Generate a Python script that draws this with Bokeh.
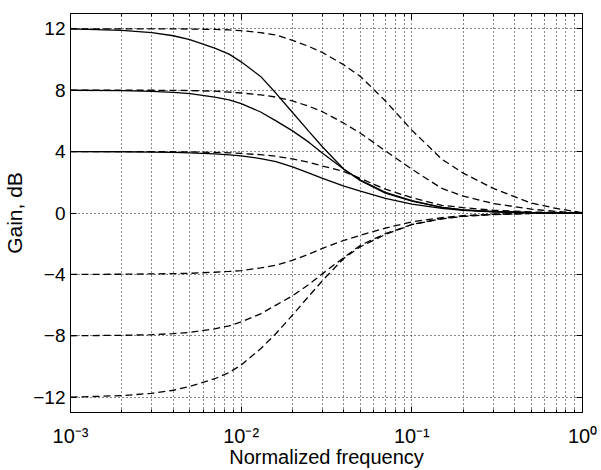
import math
from bokeh.plotting import figure
from bokeh.models import Range1d, FixedTicker, LogAxis, LinearAxis, CustomJSTickFormatter
from bokeh.embed import file_html
from bokeh.resources import INLINE

# ---- data ----
freq = [0.001, 0.002, 0.003, 0.004, 0.005, 0.007, 0.0085, 0.01, 0.013, 0.016, 0.02, 0.025,
        0.03, 0.04, 0.05, 0.07, 0.1, 0.15, 0.2, 0.3, 0.5, 0.7, 1.0]

solid_12 = [12.0, 11.9, 11.75, 11.55, 11.3, 10.75, 10.35, 9.85, 8.9, 7.8, 6.55, 5.3,
            4.3, 2.85, 2.1, 1.3, 0.78, 0.36, 0.21, 0.09, 0.03, 0.01, 0.0]
solid_8 = [8.0, 7.97, 7.92, 7.86, 7.78, 7.55, 7.37, 7.13, 6.58, 6.0, 5.35, 4.6,
           3.9, 2.85, 2.15, 1.35, 0.8, 0.37, 0.21, 0.09, 0.03, 0.01, 0.0]
solid_4 = [4.0, 3.99, 3.97, 3.95, 3.92, 3.85, 3.79, 3.72, 3.55, 3.35, 3.0, 2.6,
           2.25, 1.75, 1.42, 0.95, 0.58, 0.3, 0.17, 0.08, 0.03, 0.01, 0.0]

dashed_12 = [12.0, 12.0, 12.0, 12.0, 11.99, 11.96, 11.93, 11.88, 11.75, 11.6, 11.25, 10.85,
             10.45, 9.65, 8.9, 7.3, 5.4, 3.5, 2.6, 1.6, 0.65, 0.3, 0.02]
dashed_8 = [8.0, 8.0, 8.0, 7.99, 7.98, 7.94, 7.88, 7.82, 7.7, 7.55, 7.3, 6.95,
            6.6, 5.85, 5.2, 4.05, 2.85, 1.6, 1.1, 0.62, 0.25, 0.1, 0.0]
dashed_4 = [4.0, 4.0, 4.0, 3.99, 3.98, 3.95, 3.92, 3.88, 3.8, 3.7, 3.52, 3.3,
            3.06, 2.7, 2.25, 1.55, 1.0, 0.5, 0.35, 0.18, 0.07, 0.03, 0.0]

cut_4 = [-4.0, -3.99, -3.97, -3.95, -3.93, -3.86, -3.81, -3.75, -3.58, -3.4, -3.08, -2.68,
         -2.3, -1.78, -1.45, -0.98, -0.58, -0.3, -0.17, -0.08, -0.03, -0.01, 0.0]
cut_8 = [-8.0, -7.97, -7.93, -7.86, -7.78, -7.55, -7.35, -7.1, -6.57, -6.0, -5.4, -4.65,
         -3.95, -2.9, -2.1, -1.35, -0.75, -0.36, -0.2, -0.09, -0.03, -0.01, 0.0]
cut_12 = [-12.0, -11.9, -11.75, -11.55, -11.3, -10.8, -10.4, -9.9, -8.85, -7.85, -6.65, -5.4,
          -4.4, -2.95, -2.2, -1.4, -0.75, -0.38, -0.22, -0.1, -0.03, -0.01, 0.0]

x_ticks = [0.001, 0.01, 0.1, 1.0]
x_tick_labels = ["10\u207b\u00b3", "10\u207b\u00b2", "10\u207b\u00b9", "10\u2070"]
x_minor_ticks = [k * 10.0 ** e for e in (-3, -2, -1) for k in range(2, 10)]
y_ticks = [-12, -8, -4, 0, 4, 8, 12]
y_tick_labels = ["\u221212", "\u22128", "\u22124", "0", "4", "8", "12"]
x_title = "Normalized frequency"
y_title = "Gain, dB"

FONT = "Liberation Sans"

p = figure(width=601, height=470, x_axis_type="log",
           x_range=Range1d(1e-3, 1.0), y_range=Range1d(-13, 13),
           output_backend="svg", toolbar_location=None,
           min_border_left=70, min_border_right=19, min_border_top=13, min_border_bottom=52)
p.background_fill_color = "white"
p.border_fill_color = "white"
p.outline_line_color = "black"
p.outline_line_width = 1

blank = CustomJSTickFormatter(code="return ''")

# extra axes giving the closed box with inward ticks
p.add_layout(LogAxis(), "above")
p.add_layout(LinearAxis(), "right")

xt = FixedTicker(ticks=x_ticks, minor_ticks=x_minor_ticks)
yt = FixedTicker(ticks=y_ticks)

for ax in p.xaxis:
    ax.ticker = xt
    ax.minor_tick_in = 3
    ax.minor_tick_out = 0
    ax.minor_tick_line_color = "black"
for ax in p.yaxis:
    ax.ticker = yt
    ax.minor_tick_line_color = None
for ax in p.xaxis + p.yaxis:
    ax.axis_line_color = "black"
    ax.major_tick_in = 6
    ax.major_tick_out = 0
    ax.major_tick_line_color = "black"

# bottom axis: 10^n labels and title
bottom = p.below[0]
bottom.formatter = CustomJSTickFormatter(
    args=dict(tick_values=x_ticks, tick_texts=x_tick_labels),
    code="""
    for (let i = 0; i < tick_values.length; i++) {
        if (Math.abs(Math.log10(tick_values[i]) - Math.log10(tick)) < 1e-6) return tick_texts[i];
    }
    return '';
    """)
bottom.major_label_text_font = FONT
bottom.major_label_text_font_size = "20px"
bottom.major_label_text_color = "black"
bottom.major_label_standoff = 12
bottom.axis_label = x_title
bottom.axis_label_text_font = FONT
bottom.axis_label_text_font_size = "20px"
bottom.axis_label_text_font_style = "normal"
bottom.axis_label_text_color = "black"
bottom.axis_label_standoff = -4

# left axis: labels and title
left = p.left[0]
left.major_label_overrides = dict(zip(y_ticks, y_tick_labels))
left.major_label_text_font = FONT
left.major_label_text_font_size = "19px"
left.major_label_text_color = "black"
left.major_label_standoff = 5
left.axis_label = y_title
left.axis_label_text_font = FONT
left.axis_label_text_font_size = "21px"
left.axis_label_text_font_style = "normal"
left.axis_label_text_color = "black"
left.axis_label_standoff = 4

# top and right: ticks only
for ax in (p.above[0], p.right[0]):
    ax.formatter = blank
    ax.major_label_text_font_size = "1px"
    ax.major_label_standoff = 0

# dotted grids
p.xgrid.ticker = xt
p.xgrid.grid_line_color = "#111111"
p.xgrid.grid_line_dash = "1 3"
p.xgrid.minor_grid_line_color = "#111111"
p.xgrid.minor_grid_line_dash = "1 3"
p.ygrid.ticker = yt
p.ygrid.grid_line_color = "#111111"
p.ygrid.grid_line_dash = "1 3"

# curves
for ys in (solid_12, solid_8, solid_4):
    p.line(freq, ys, line_color="black", line_width=1.3)
for ys in (dashed_12, dashed_8, dashed_4, cut_4, cut_8, cut_12):
    p.line(freq, ys, line_color="black", line_width=1.3, line_dash="7 4")

open("out.html", "w").write(file_html(p, INLINE))
